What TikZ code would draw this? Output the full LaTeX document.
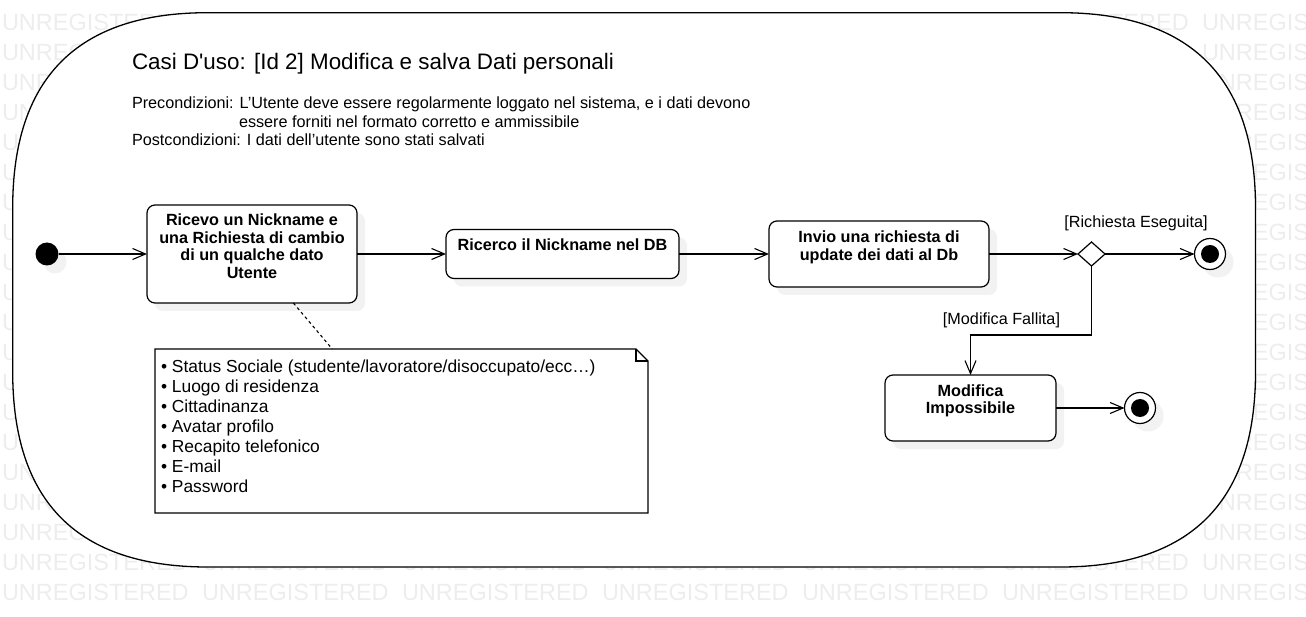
\documentclass[tikz,border=0pt]{standalone}
\usepackage{fontspec}
\setmainfont{Liberation Sans}
\newfontfamily\titlefont{Liberation Sans}
\usetikzlibrary{arrows.meta,shapes.geometric,shadows,calc}
\newcommand\mlines[1]{\begin{tabular}[t]{@{}c@{}}#1\end{tabular}}
\newcommand\llines[1]{\begin{tabular}[t]{@{}l@{}}#1\end{tabular}}
\begin{document}
\begin{tikzpicture}[x=1pt,y=-1pt,
  every node/.style={inner sep=0pt, outer sep=0pt},
  wm/.style={font=\fontsize{23.5}{23.5}\selectfont, text=black!7, anchor=base west},
  shd/.style={drop shadow={shadow xshift=8pt, shadow yshift=-8pt, opacity=1, fill=black!5, draw=none}},
  actbox/.style={draw, line width=1.2pt, rounded corners=8pt, fill=white, shd},
  boldtxt/.style={anchor=base, font=\bfseries\fontsize{16.2}{17.5}\selectfont},
  regtxt/.style={font=\fontsize{16.2}{18.3}\selectfont},
  conn/.style={line width=1.1pt, -{Straight Barb[length=13pt,width=11pt]}},
  finalouter/.style={circle, draw, line width=1.2pt, fill=white, minimum size=31pt, shd},
  finalinner/.style={circle, fill=black, minimum size=18pt}
]
\useasboundingbox (0,0) rectangle (1306,617);

% watermark
\begin{scope}
  \clip (0,0) rectangle (1306,617);
  \foreach \j in {0,...,19}{
    \foreach \k in {0,...,6}{
      \node[wm] (wm-\j-\k) at ({2+200*\k},{30.7+30*\j}) {UNREGISTERED};
    }
  }
\end{scope}

% frame
\draw[line width=1.3pt, fill=white]
  (12.7,207.7) .. controls (12.7,77.7) and (77.7,12.7) .. (207.7,12.7)
  -- (1060.5,12.7) .. controls (1190.5,12.7) and (1255.5,77.7) .. (1255.5,207.7)
  -- (1255.5,372) .. controls (1255.5,502) and (1190.5,567) .. (1060.5,567)
  -- (207.7,567) .. controls (77.7,567) and (12.7,502) .. (12.7,372)
  -- cycle;

% header texts
\node[anchor=base west, font=\titlefont\fontsize{22.4}{24}\selectfont] (title) at (132,70)
  {Casi D'uso: [Id 2] Modifica e salva Dati personali};
\node[regtxt, anchor=base west] (pre1) at (132,109)
  {Precondizioni: L’Utente deve essere regolarmente loggato nel sistema, e i dati devono};
\node[regtxt, anchor=base west] (pre2) at (239,127.5)
  {essere forniti nel formato corretto e ammissibile};
\node[regtxt, anchor=base west] (post) at (132,146)
  {Postcondizioni: I dati dell’utente sono stati salvati};

% nodes
\node[circle, fill=black, minimum size=23pt, shd] (init) at (47,254) {};

\node[actbox, minimum width=210pt, minimum height=98pt] (n1) at (252,254) {};
\node[boldtxt] (t1) at (252,226)
  {\mlines{Ricevo un Nickname e\\una Richiesta di cambio\\di un qualche dato\\Utente}};

\node[actbox, minimum width=233pt, minimum height=49pt] (n2) at (562.5,254) {};
\node[boldtxt] (t2) at (562.5,250.5) {Ricerco il Nickname nel DB};

\node[actbox, minimum width=220pt, minimum height=66pt] (n3) at (879,254) {};
\node[boldtxt] (t3) at (879,243)
  {\mlines{Invio una richiesta di\\update dei dati al Db}};

\node[diamond, draw, fill=white, line width=1.2pt, minimum width=27pt, minimum height=24pt] (dec) at (1091.5,254) {};

\node[finalouter] (f1) at (1210,254) {};
\node[finalinner] (f1in) at (1210,254) {};

\node[actbox, minimum width=171pt, minimum height=66pt] (n4) at (970.5,408) {};
\node[boldtxt] (t4) at (970.5,396)
  {\mlines{Modifica\\Impossibile}};

\node[finalouter] (f2) at (1140,408) {};
\node[finalinner] (f2in) at (1140,408) {};

% note
\node[minimum width=493pt, minimum height=164pt] (note) at (401.5,431) {};
\draw[line width=1.1pt, fill=white] (note.north west) -- ($(note.north east)+(-12,0)$)
  -- ($(note.north east)+(0,12)$) -- (note.south east) -- (note.south west) -- cycle;
\draw[line width=1.1pt] ($(note.north east)+(-12,0)$) -- ($(note.north east)+(-12,12)$)
  -- ($(note.north east)+(0,12)$);
\node[anchor=base west, font=\fontsize{17.4}{20}\selectfont] (notetext) at (161,372.7)
  {\llines{• Status Sociale (studente/lavoratore/disoccupato/ecc…)\\
  • Luogo di residenza\\
  • Cittadinanza\\
  • Avatar profilo\\
  • Recapito telefonico\\
  • E-mail\\
  • Password}};

% connectors
\draw[conn] (init) -- (n1);
\draw[conn] (n1) -- (n2);
\draw[conn] (n2) -- (n3);
\draw[conn] (n3) -- (dec);
\draw[conn] (dec) -- (f1);
\draw[conn] (dec.south) -- ++(0,69) -| (n4.north);
\draw[conn] (n4) -- (f2);
\draw[line width=1.1pt, dash pattern=on 3pt off 3pt] (n1) -- (note);

% guard labels
\node[regtxt, anchor=base] (lbl1) at (1136,228) {[Richiesta Eseguita]};
\node[regtxt, anchor=base] (lbl2) at (1001.5,325) {[Modifica Fallita]};
\end{tikzpicture}
\end{document}
